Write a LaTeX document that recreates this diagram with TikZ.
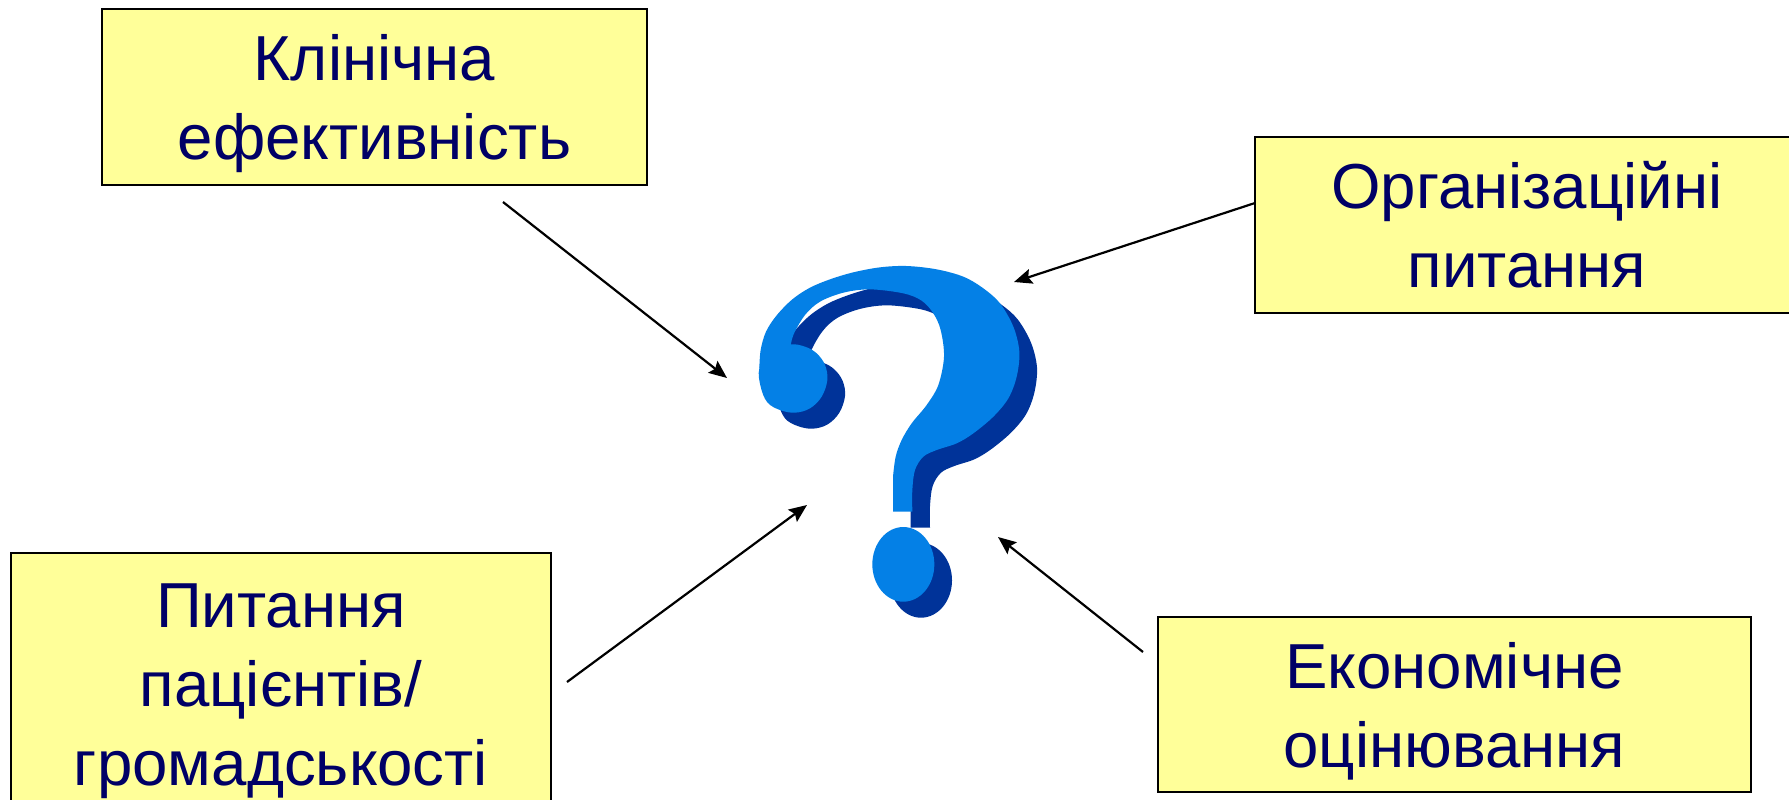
\documentclass[tikz,border=0pt]{standalone}
\usepackage{fontspec}
\setmainfont{Liberation Sans}
\usetikzlibrary{arrows.meta}
\definecolor{boxfill}{HTML}{FFFF99}
\definecolor{boxtext}{HTML}{000066}
\definecolor{qlight}{HTML}{0480E6}
\definecolor{qdark}{HTML}{003399}
\newcommand{\qmarkfill}[1]{%
  \fill[#1] plot[smooth,tension=.55] coordinates {(489,710) (497,650) (515,600) (545,550) (590,495) (625,435) (642,350) (632,270) (610,220) (575,182) (520,160) (420,148) (340,158) (270,185) (225,225) (190,285) (180,330)}
  -- (88,385)
  -- plot[smooth,tension=.55] coordinates {(88,385) (92,330) (108,275) (140,226) (187,178) (240,143) (300,118) (370,97) (450,82) (530,78) (620,88) (700,110) (760,145) (810,190) (850,260) (868,335) (860,410) (835,475) (790,530) (730,580) (680,610) (620,630) (580,650) (555,690) (547,750) (547,815)}
  -- (489,815) -- cycle;
  \fill[#1] plot[smooth cycle,tension=.6] coordinates {(88,385) (92,440) (112,487) (150,510) (195,518) (240,505) (275,470) (292,420) (285,375) (260,340) (225,320) (180,313) (120,330)};
  \fill[#1] (520,973) ellipse [x radius=93, y radius=112];}
\newcommand{\boxlines}[2]{\raisebox{0pt}[\dimexpr\height+#1pt+#1pt\relax][\depth]{\begin{tabular}{@{}c@{}}#2\end{tabular}}}
\tikzset{
  label box/.style={draw=black,line width=1.4pt,fill=boxfill,text=boxtext,inner sep=0pt,
    font=\fontsize{31.8}{39.5}\selectfont},
  link/.style={draw=black,line width=1.1pt,-{Stealth[length=9pt,width=7.5pt,inset=1.5pt]}}
}
\begin{document}
\begin{tikzpicture}[x=0.5pt,y=-0.5pt]
\useasboundingbox (0,0) rectangle (1789,799);
\fill[white] (0,0) rectangle (1789,799);
% question mark
\begin{scope}[shift={(730,240)},x=0.166667pt,y=-0.166667pt]
  \begin{scope}[shift={(53,48)}]
    \qmarkfill{qdark}
  \end{scope}
  \qmarkfill{qlight}
\end{scope}
% boxes
\node[label box,minimum width=272.5pt,minimum height=88pt] (eff) at (374.5,97) {\boxlines{3.5}{Клінічна\\ефективність}};
\node[label box,minimum width=272pt,minimum height=88pt] (org) at (1527,225) {\boxlines{3.7}{Організаційні\\питання}};
\node[label box,minimum width=270pt,minimum height=132pt] (pat) at (281,685) {\boxlines{2.6}{Питання\\пацієнтів/\\громадськості}};
\node[label box,minimum width=296.5pt,minimum height=87.5pt] (eco) at (1454.5,704.5) {\boxlines{3.6}{Економічне\\оцінювання}};
% arrow ends
\coordinate (effS) at (503,202);
\coordinate (effT) at (727,378);
\coordinate (orgS) at (1255,203);
\coordinate (orgT) at (1014,282);
\coordinate (patS) at (567,682);
\coordinate (patT) at (807,505);
\coordinate (ecoS) at (1143,652);
\coordinate (ecoT) at (998,537);
\draw[link] (effS) -- (effT);
\draw[link] (orgS) -- (orgT);
\draw[link] (patS) -- (patT);
\draw[link] (ecoS) -- (ecoT);
\end{tikzpicture}
\end{document}
